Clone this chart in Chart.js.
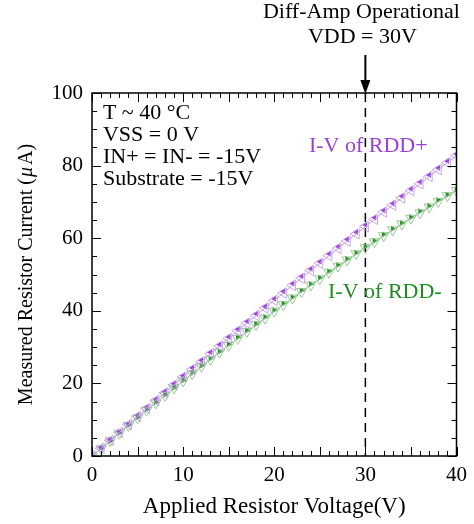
<!DOCTYPE html>
<html>
<head>
<meta charset="utf-8">
<script src="https://cdn.jsdelivr.net/npm/chart.js@4.4.1/dist/chart.umd.min.js"></script>
<style>
  html, body { margin: 0; padding: 0; background: #fff; }
  #wrap { width: 474px; height: 524px; }
</style>
</head>
<body>
<div id="wrap"><canvas id="ivChart"></canvas></div>
<script>
// applied voltage (V)
const voltage = [0,1,2,3,4,5,6,7,8,9,10,11,12,13,14,15,16,17,18,19,20,
  21,22,23,24,25,26,27,28,29,30,31,32,33,34,35,36,37,38,39,40];
// current (uA), forward / reverse sweeps
const rddPlusUp = [0,2.3,4.5,6.7,8.9,11.2,13.4,15.6,17.8,19.9,22.1,24.3,26.4,28.6,30.7,32.8,34.9,37.1,39.2,41.2,43.3,
  45.4,47.5,49.5,51.6,53.6,55.7,57.7,59.7,61.7,63.7,65.7,67.7,69.6,71.6,73.6,75.5,77.4,79.4,81.3,83.2];
const rddPlusDown = [0,2.1,4.3,6.5,8.7,10.9,13.1,15.3,17.4,19.6,21.8,23.9,26.0,28.2,30.3,32.4,34.5,36.6,38.7,40.8,42.9,
  44.9,47.0,49.0,51.1,53.1,55.2,57.2,59.2,61.2,63.2,65.2,67.2,69.1,71.1,73.1,75.0,77.0,78.9,80.8,82.8];
const rddMinusUp = [0,2.2,4.3,6.5,8.6,10.7,12.8,14.8,16.9,18.9,20.9,22.9,24.9,26.9,28.8,30.8,32.7,34.6,36.4,38.3,40.2,
  42.0,43.8,45.6,47.4,49.1,50.9,52.6,54.3,56.0,57.7,59.3,61.0,62.6,64.2,65.8,67.4,68.9,70.5,72.0,73.5];
const rddMinusDown = [0,2.0,4.2,6.3,8.4,10.5,12.6,14.6,16.7,18.7,20.7,22.7,24.7,26.6,28.6,30.5,32.4,34.3,36.2,38.0,39.9,
  41.7,43.5,45.3,47.1,48.8,50.6,52.3,54.0,55.7,57.4,59.0,60.7,62.3,63.9,65.5,67.0,68.6,70.1,71.7,73.2];

const xLabels = [0, 10, 20, 30, 40];
const yLabels = [0, 20, 40, 60, 80, 100];
const conditions = ['T ~ 40 °C', 'VSS = 0 V', 'IN+ = IN- = -15V', 'Substrate = -15V'];
const markerVoltage = 30;

const PURPLE = '#9b3fd8';
const PURPLE_LIGHT = '#c49ce8';
const GREEN = '#1e8c1e';
const GREEN_LIGHT = '#8fc48f';
const FONT = '"Liberation Serif", "Times New Roman", serif';

const toPoints = (ys) => voltage.map((v, i) => ({ x: v, y: ys[i] }));

// frame, inside ticks, axis titles, notes and the VDD marker
const decorPlugin = {
  id: 'decor',
  beforeDatasetsDraw: (chart) => {
    const { ctx, chartArea: { top, bottom }, scales: { x } } = chart;
    const px = x.getPixelForValue(markerVoltage);
    ctx.save();
    ctx.strokeStyle = '#000';
    ctx.lineWidth = 1.5;
    ctx.setLineDash([9, 6]);
    ctx.beginPath();
    ctx.moveTo(px, top);
    ctx.lineTo(px, bottom);
    ctx.stroke();
    ctx.restore();
  },
  afterDraw: (chart) => {
    const { ctx, chartArea: { left, right, top, bottom }, scales: { x, y } } = chart;
    ctx.save();
    ctx.strokeStyle = '#000';
    ctx.lineWidth = 1.5;
    ctx.strokeRect(left, top, right - left, bottom - top);

    ctx.lineWidth = 1;
    ctx.beginPath();
    for (let v = 0; v <= 40; v++) {
      const len = v % 5 === 0 ? 9 : 5;
      const p = Math.round(x.getPixelForValue(v)) + 0.5;
      ctx.moveTo(p, bottom); ctx.lineTo(p, bottom - len);
      ctx.moveTo(p, top); ctx.lineTo(p, top + len);
    }
    for (let v = 0; v <= 100; v += 5) {
      const len = v % 20 === 0 ? 9 : 5;
      const p = Math.round(y.getPixelForValue(v)) + 0.5;
      ctx.moveTo(left, p); ctx.lineTo(left + len, p);
      ctx.moveTo(right, p); ctx.lineTo(right - len, p);
    }
    ctx.stroke();

    ctx.fillStyle = '#000';
    ctx.textBaseline = 'middle';

    // axis titles
    ctx.font = '23px ' + FONT;
    ctx.textAlign = 'center';
    ctx.fillText('Applied Resistor Voltage(V)', (left + right) / 2, 507);

    ctx.save();
    ctx.translate(27, (top + bottom) / 2);
    ctx.rotate(-Math.PI / 2);
    const partA = 'Measured Resistor Current (';
    const partMu = 'μ';
    const partB = 'A)';
    ctx.font = '20px ' + FONT;
    const wA = ctx.measureText(partA).width;
    const wB = ctx.measureText(partB).width;
    ctx.font = 'italic 20px ' + FONT;
    const wMu = ctx.measureText(partMu).width + 3;
    let cx = -(wA + wMu + wB) / 2;
    ctx.textAlign = 'left';
    ctx.font = '20px ' + FONT;
    ctx.fillText(partA, cx, 0);
    ctx.font = 'italic 20px ' + FONT;
    ctx.fillText(partMu, cx + wA + 1, 0);
    ctx.font = '20px ' + FONT;
    ctx.fillText(partB, cx + wA + wMu, 0);
    ctx.restore();

    // conditions block
    ctx.font = '22px ' + FONT;
    ctx.textAlign = 'left';
    conditions.forEach((t, i) => {
      ctx.fillText(t, x.getPixelForValue(1.2), y.getPixelForValue(94.5 - i * 6.05));
    });

    // series labels
    ctx.fillStyle = PURPLE;
    ctx.fillText('I-V of RDD+', x.getPixelForValue(23.8), y.getPixelForValue(85.4));
    ctx.fillStyle = GREEN;
    ctx.fillText('I-V of RDD-', x.getPixelForValue(25.9), y.getPixelForValue(45.2));

    // VDD marker above the plot
    const px = x.getPixelForValue(markerVoltage);
    ctx.fillStyle = '#000';
    ctx.textAlign = 'center';
    ctx.textBaseline = 'alphabetic';
    ctx.fillText('Diff-Amp Operational', px - 4, 18);
    ctx.fillText('VDD = 30V', px - 3, 43);
    ctx.lineWidth = 2;
    ctx.beginPath();
    ctx.moveTo(px, 55);
    ctx.lineTo(px, top - 8);
    ctx.stroke();
    ctx.beginPath();
    ctx.moveTo(px, top + 1);
    ctx.lineTo(px - 5, top - 13);
    ctx.lineTo(px + 5, top - 13);
    ctx.closePath();
    ctx.fill();
    ctx.restore();
  }
};

new Chart(document.getElementById('ivChart'), {
  type: 'scatter',
  data: {
    datasets: [
      {
        label: 'RDD+ reverse',
        data: toPoints(rddPlusDown),
        showLine: true,
        borderColor: PURPLE_LIGHT,
        borderWidth: 1,
        pointStyle: 'triangle',
        rotation: 270,
        pointRadius: 6,
        pointBorderWidth: 0.9,
        pointBorderColor: PURPLE_LIGHT,
        pointBackgroundColor: 'rgba(255,255,255,0)'
      },
      {
        label: 'RDD- reverse',
        data: toPoints(rddMinusDown),
        showLine: true,
        borderColor: GREEN_LIGHT,
        borderWidth: 1,
        pointStyle: 'triangle',
        rotation: 180,
        pointRadius: 6,
        pointBorderWidth: 0.9,
        pointBorderColor: GREEN_LIGHT,
        pointBackgroundColor: 'rgba(255,255,255,0)'
      },
      {
        label: 'RDD+ forward',
        data: toPoints(rddPlusUp),
        showLine: false,
        pointStyle: 'triangle',
        rotation: 270,
        pointRadius: 3.5,
        pointBorderWidth: 0,
        pointBackgroundColor: PURPLE
      },
      {
        label: 'RDD- forward',
        data: toPoints(rddMinusUp),
        showLine: false,
        pointStyle: 'triangle',
        rotation: 90,
        pointRadius: 3.5,
        pointBorderWidth: 0,
        pointBackgroundColor: GREEN
      }
    ]
  },
  options: {
    responsive: true,
    maintainAspectRatio: false,
    animation: false,
    layout: { padding: { top: 93, right: 15, left: 0, bottom: 0 } },
    plugins: { legend: { display: false }, tooltip: { enabled: false } },
    scales: {
      x: {
        type: 'linear',
        min: 0, max: 40,
        grid: { display: false, drawTicks: false },
        border: { display: false },
        afterBuildTicks: (axis) => { axis.ticks = xLabels.map(v => ({ value: v })); },
        afterFit: (axis) => { axis.height = 68; },
        ticks: { color: '#000', padding: 7, font: { family: FONT, size: 21 } }
      },
      y: {
        type: 'linear',
        min: 0, max: 100,
        grid: { display: false, drawTicks: false },
        border: { display: false },
        afterBuildTicks: (axis) => { axis.ticks = yLabels.map(v => ({ value: v })); },
        afterFit: (axis) => { axis.width = 92; },
        ticks: { color: '#000', padding: 9, font: { family: FONT, size: 21 } }
      }
    }
  },
  plugins: [decorPlugin]
});
</script>
</body>
</html>
